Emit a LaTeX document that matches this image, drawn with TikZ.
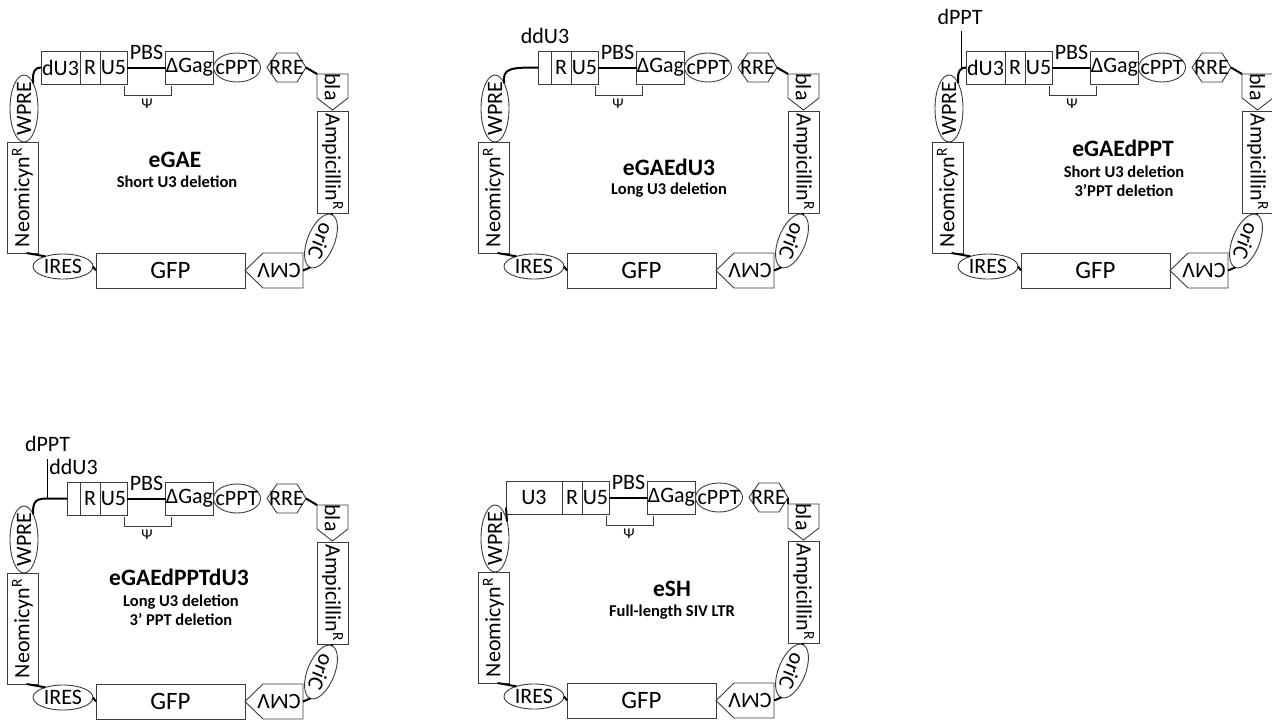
\documentclass[tikz,border=0pt]{standalone}
\usepackage{fontspec}
\usepackage{graphicx}
\setmainfont{Carlito}
\usetikzlibrary{shapes.geometric}
\definecolor{partline}{HTML}{3C3C3C}
\newcommand\labfont{\fontsize{22}{25}\selectfont}
\newcommand\gfpfont{\fontsize{25}{28}\selectfont}
\newcommand\titlefont{\fontsize{23.5}{27}\selectfont\bfseries}
\newcommand\subtfont{\fontsize{16.5}{19}\selectfont\bfseries}
\newcommand\psifont{\fontsize{15}{17}\selectfont}
\tikzset{
  part/.style={draw=partline, line width=0.9pt, inner sep=0pt, outer sep=0pt, font=\labfont},
  boxpart/.style={part, rectangle},
  ovalpart/.style={part, ellipse},
  ghost/.style={inner sep=0pt, outer sep=0pt, font=\labfont},
  outline/.style={draw=partline, line width=0.9pt},
  wire/.style={line width=2pt, black},
  brk/.style={line width=0.9pt, partline},
  stem/.style={line width=0.9pt, black},
  ttl/.style={inner sep=0pt, font=\titlefont},
  subt/.style={inner sep=0pt, font=\subtfont},
}
% common body: #1 prefix
\newcommand\bodyparts[1]{%
  \node[boxpart, minimum width=31pt, minimum height=111pt] (#1neo) at (22.5,197.5) {\rotatebox{90}{Neomicyn\textsuperscript{R}}};
  \node[ovalpart, minimum width=28pt, minimum height=67pt] (#1wpre) at (24,108.5) {};
  \node[ghost, rotate=90] at (#1wpre) {WPRE};
  \node[ovalpart, minimum width=60pt, minimum height=25pt] (#1ires) at (63,266.5) {};
  \node[ghost] at (#1ires) {IRES};
  \node[boxpart, font=\gfpfont, minimum width=149pt, minimum height=35pt] (#1gfp) at (170.5,270.5) {GFP};
  \node[ghost, minimum width=58pt, minimum height=35pt] (#1cmv) at (274,270.5) {};
  \draw[outline] (#1cmv.west) -- ([xshift=18pt]#1cmv.north west) -- (#1cmv.north east) -- (#1cmv.south east) -- ([xshift=18pt]#1cmv.south west) -- cycle;
  \node[ghost, rotate=180] at ([xshift=5pt]#1cmv.center) {CMV};
  \node[ovalpart, rotate=-112, minimum width=57pt, minimum height=27pt] (#1oric) at (321,241) {};
  \node[ghost, rotate=-112] at (#1oric) {oriC};
  \node[boxpart, minimum width=31pt, minimum height=102pt] (#1amp) at (332.5,162) {\rotatebox{-90}{Ampicillin\textsuperscript{R}}};
  \node[ghost, minimum width=31pt, minimum height=36pt] (#1bla) at (332.5,92) {};
  \draw[outline] (#1bla.north west) -- (#1bla.north east) -- ([yshift=12pt]#1bla.south east) -- (#1bla.south) -- ([yshift=12pt]#1bla.south west) -- cycle;
  \node[ghost, rotate=-90] at ([yshift=5pt]#1bla.center) {bla};
  \draw[wire] ([xshift=4pt]#1neo.south) -- (#1ires.150);
  \draw[wire] (#1ires.east) -- (#1gfp.west);
  \draw[wire] (#1cmv.east) -- (#1oric.east);
  \draw[wire] (#1oric.west) -- (#1amp.south);
}
% top strip: #1 prefix, #2 first label, #3 left x of first box, #4 shift
\newcommand\topstrip[4]{%
  \node[boxpart, minimum width={80+#4-#3}, minimum height=33pt] (#1du3) at ({(#3+80+#4)/2},67.5) {#2};
  \node[boxpart, minimum width=20pt, minimum height=33pt] (#1r) at ({90+#4},67.5) {R};
  \node[boxpart, minimum width=27pt, minimum height=33pt] (#1u5) at ({113.5+#4},67.5) {U5};
  \node[boxpart, minimum width=47pt, minimum height=33pt] (#1gag) at ({189.5+#4},67.5) {ΔGag};
  \node[ovalpart, minimum width=47pt, minimum height=29pt] (#1cppt) at ({237+#4},67.5) {};
  \node[ghost] at (#1cppt) {cPPT};
  \node[ghost, minimum width=39pt, minimum height=29pt] (#1rre) at ({286.5+#4},67.5) {};
  \draw[outline] (#1rre.west) -- ([xshift=10pt]#1rre.north west) -- ([xshift=-9pt]#1rre.north east) -- (#1rre.east) -- ([xshift=-9pt]#1rre.south east) -- ([xshift=10pt]#1rre.south west) -- cycle;
  \node[ghost] at (#1rre) {RRE};
  \draw[wire] (#1u5.east) -- (#1gag.west);
  \node[ghost] (#1pbs) at ({146.5+#4},52) {PBS};
  \draw[brk] ({124+#4},86) -- ({124+#4},95) -- ({171+#4},95) -- ({171+#4},86);
  \node[ghost, font=\psifont] (#1psi) at ({147+#4},104) {Ψ};
  \draw[wire] (#1rre.east) -- (#1bla.north west);
}
\begin{document}
\begin{tikzpicture}[x=1pt,y=-1pt]
\useasboundingbox (0,0) rectangle (1272,720);
\fill[white] (0,0) rectangle (1272,720);
% ---------- eGAE
\begin{scope}
  \bodyparts{a}
  \topstrip{a}{dU3}{41}{0}
  \draw[wire] (awpre.70) .. controls (32,70) and (36,67.5) .. (adu3.west);
\end{scope}
% ---------- eGAEdU3
\begin{scope}[shift={(471,0)}]
  \bodyparts{b}
  \topstrip{b}{}{67}{0}
  \node[ghost] (bddu3) at (74,36) {ddU3};
  \draw[wire] (bwpre.70) .. controls (31,68) and (40,67.5) .. (bdu3.west);
\end{scope}
% ---------- eGAEdPPT
\begin{scope}[shift={(925,0)}]
  \bodyparts{c}
  \topstrip{c}{dU3}{41}{0}
  \draw[wire] (cwpre.70) .. controls (32,70) and (36,67.5) .. (cdu3.west);
  \node[ghost] (cdppt) at (35,17) {dPPT};
  \coordinate (cstemtop) at (36,31);
  \coordinate (cstembot) at (36,70);
  \draw[stem] (cstemtop) -- (cstembot);
\end{scope}
% ---------- eGAEdPPTdU3
\begin{scope}[shift={(0,431)}]
  \bodyparts{d}
  \topstrip{d}{}{67}{0}
  \node[ghost] (ddppt) at (47.5,13) {dPPT};
  \node[ghost] (dddu3) at (73.5,36) {ddU3};
  \coordinate (dstemtop) at (47,28);
  \coordinate (dstembot) at (47,67.5);
  \draw[stem] (dstemtop) -- (dstembot);
  \draw[wire] (dwpre.70) .. controls (32,69) and (38,67.5) .. (dstembot) -- (ddu3.west);
\end{scope}
% ---------- eSH
\begin{scope}[shift={(471,430)}]
  \bodyparts{e}
  \topstrip{e}{U3}{35}{11}
  \draw[wire] (ewpre.55) -- ([yshift=-10pt]edu3.west);
\end{scope}
% ---------- titles
\node[ttl] (t1) at (175,160) {eGAE};
\node[subt] (s1) at (177,182) {Short U3 deletion};
\node[ttl] (t2) at (669,167) {eGAEdU3};
\node[subt] (s2) at (669,190) {Long U3 deletion};
\node[ttl] (t3) at (1123,148) {eGAEdPPT};
\node[subt] (s3a) at (1124,172) {Short U3 deletion};
\node[subt] (s3b) at (1124,191) {3’PPT deletion};
\node[ttl] (t4) at (179,577) {eGAEdPPTdU3};
\node[subt] (s4a) at (181,602) {Long U3 deletion};
\node[subt] (s4b) at (181,620) {3’ PPT deletion};
\node[ttl] (t5) at (672,589) {eSH};
\node[subt] (s5) at (672,612) {Full-length SIV LTR};
\end{tikzpicture}
\end{document}
